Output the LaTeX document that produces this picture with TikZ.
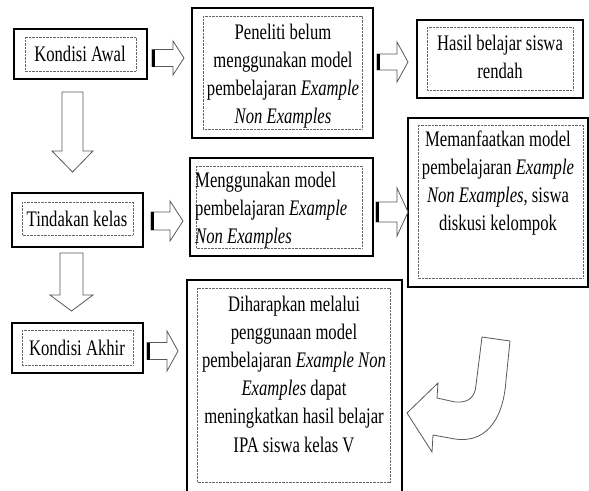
\documentclass[tikz,border=0pt]{standalone}
\usepackage{fontspec}
\setmainfont[FakeStretch=0.75]{Liberation Serif}
\begin{document}
\begin{tikzpicture}[x=1pt,y=-1pt,
  outerbox/.style={draw=black,line width=1.05pt},
  innerbox/.style={draw=black!60,line width=0.7pt,dash pattern=on 0.7pt off 0.7pt},
  txt/.style={inner sep=0pt,align=center,font=\fontsize{22.2}{28.2}\selectfont},
  arrowline/.style={draw=black!65,line width=0.8pt,fill=white,line join=miter},
  endbar/.style={draw=black,line width=2.6pt}]
\clip (0,0) rectangle (589,490);
\fill[white] (0,0) rectangle (589,490);
\newcommand{\rblock}[6]{%
  \draw[arrowline] (#1,#4-#5) -- (#2,#4-#5) -- (#2,#4-#6) -- (#3,#4) -- (#2,#4+#6) -- (#2,#4+#5) -- (#1,#4+#5) -- cycle;
  \draw[endbar] (#1+1.3,#4-#5) -- (#1+1.3,#4+#5);}
\newcommand{\dblock}[7]{%
  \draw[arrowline] (#1,#3) -- (#2,#3) -- (#2,#4) -- (#6,#4) -- ({(#1+#2)/2},#7) -- (#5,#4) -- (#1,#4) -- cycle;}
% boxes
\draw[outerbox] (14,29) rectangle (147,79);
\draw[innerbox] (25,37) rectangle (136,71);
\draw[outerbox] (192,8) rectangle (373,138);
\draw[innerbox] (203,16) rectangle (362,129);
\draw[outerbox] (417,20) rectangle (583,98);
\draw[innerbox] (427,27) rectangle (573,90);
\draw[outerbox] (12,193) rectangle (143,247);
\draw[innerbox] (22,202) rectangle (133,235);
\draw[outerbox] (190,158) rectangle (373,256);
\draw[innerbox] (196,166) rectangle (362,248);
\draw[outerbox] (408,118) rectangle (588,287);
\draw[innerbox] (418,125) rectangle (583,278);
\draw[outerbox] (12,323) rectangle (143,373);
\draw[innerbox] (22,330) rectangle (133,365);
\draw[outerbox] (187,280) rectangle (402,498);
\draw[innerbox] (197,288) rectangle (390,482);
% texts
\node[txt] (awal) at (80,54) {Kondisi Awal};
\node[txt] (peneliti) at (283,76) {Peneliti belum\\menggunakan model\\pembelajaran \textit{Example}\\\textit{Non Examples}};
\node[txt] (hasil) at (500,57) {Hasil belajar siswa\\rendah};
\node[txt] (tindakan) at (77,219) {Tindakan kelas};
\node[txt,anchor=west,align=left] (menggunakan) at (195,210) {Menggunakan model\\pembelajaran \textit{Example}\\\textit{Non Examples}};
\node[txt] (memanfaatkan) at (498,183) {Memanfaatkan model\\pembelajaran \textit{Example}\\\textit{Non Examples}, siswa\\diskusi kelompok};
\node[txt] (akhir) at (77,348) {Kondisi Akhir};
\node[txt] (diharapkan) at (294,374) {Diharapkan melalui\\penggunaan model\\pembelajaran \textit{Example Non}\\\textit{Examples} dapat\\meningkatkan hasil belajar\\IPA siswa kelas V};
% right block arrows: L B T C h H
\rblock{152}{173}{184}{58}{8.5}{17}
\rblock{377}{397}{408}{62}{8}{20}
\rblock{151}{170}{183}{221}{9}{20}
\rblock{376}{397}{408}{212}{10}{24}
\rblock{147}{167}{178}{351}{8.5}{20}
% down block arrows: xl xr top base headL headR tip
\dblock{62}{83}{92}{151}{52}{93}{172}
\dblock{60}{83}{253}{295}{50}{93}{311}
% curved arrow
\draw[arrowline] (482,337) -- (510,341) -- (506,380)
  .. controls (503,425) and (482,443) .. (455,439) -- (433,435)
  -- (432,452) -- (407,413) -- (438,383) -- (437,398)
  -- (455,402) .. controls (468,403) and (475,398) .. (476,385) -- cycle;
\end{tikzpicture}
\end{document}
